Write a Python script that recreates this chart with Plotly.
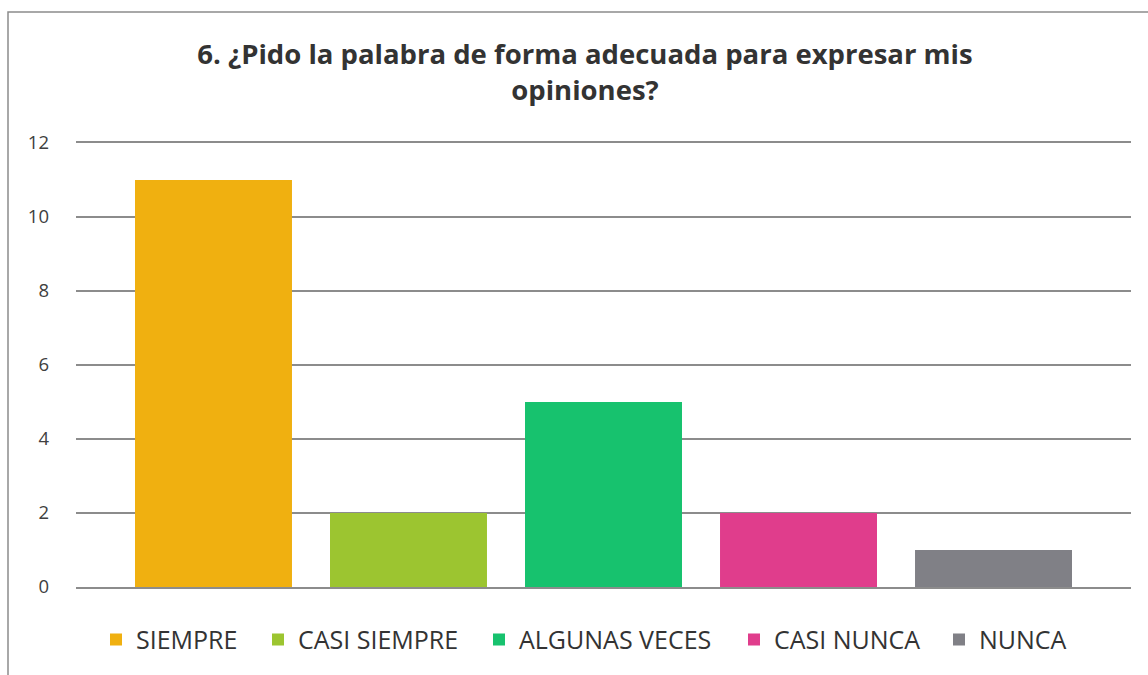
import plotly.graph_objects as go

categories = ["SIEMPRE", "CASI SIEMPRE", "ALGUNAS VECES", "CASI NUNCA", "NUNCA"]
values = [11, 2, 5, 2, 1]
colors = ["#F0B010", "#9CC530", "#17C26E", "#E03D8C", "#808086"]
y_ticks = [0, 2, 4, 6, 8, 10, 12]
title_text = "6. ¿Pido la palabra de forma adecuada para expresar mis<br>opiniones?"

# pixel x of each legend entry's left edge (layout only)
legend_px = [96, 258, 479, 734, 939]

W, H = 1148, 675
L, R, T, B = 76, 17, 143, 85
pw, ph = W - L - R, H - T - B

fig = go.Figure()
legend_layouts = {}
for i, (name, val, col) in enumerate(zip(categories, values, colors)):
    lg = "legend" if i == 0 else f"legend{i + 1}"
    fig.add_trace(go.Bar(x=[""], y=[val], name=name, legend=lg,
                         marker=dict(color=col, line=dict(width=0))))
    legend_layouts[lg] = dict(orientation="h", x=(legend_px[i] - L) / pw, xanchor="left",
                              y=-(643 - 590) / ph, yanchor="middle",
                              font=dict(size=25, color="#333333", family="Open Sans"),
                              bgcolor="rgba(0,0,0,0)")

fig.update_layout(
    width=W, height=H,
    margin=dict(l=L, r=R, t=T, b=B, pad=0),
    paper_bgcolor="white", plot_bgcolor="white",
    barmode="group", bargap=0.0758, bargroupgap=0.195,
    font=dict(family="Open Sans", color="#404040"),
    title=dict(text=title_text, x=585 / W, xanchor="center", xref="container",
               y=1 - 64 / H, yanchor="top", yref="container",
               font=dict(family="Open Sans", size=27.5, color="#333333", weight="bold")),
    showlegend=True,
    xaxis=dict(showticklabels=False, showgrid=False, zeroline=False,
               showline=True, mirror=True, linecolor="#8C8C8C", linewidth=1.5),
    yaxis=dict(range=[0, 12], tickvals=y_ticks, showgrid=True, gridcolor="#8C8C8C",
               gridwidth=1.5, zeroline=False, showline=False,
               tickfont=dict(size=18.5, color="#404040"), ticks="", ticklabelstandoff=26),
    shapes=[dict(type="rect", xref="paper", yref="paper",
                 x0=(8 - L) / pw, x1=(W + 20 - L) / pw,
                 y0=-(H + 20 - T - ph) / ph, y1=(T + ph - 11) / ph,
                 line=dict(color="#8C8C8C", width=1.5), fillcolor="rgba(0,0,0,0)", layer="below")],
    **legend_layouts,
)

fig.write_html("out.html", config={"displayModeBar": False},
               post_script="document.body.style.margin='0';document.body.style.overflow='hidden';")
